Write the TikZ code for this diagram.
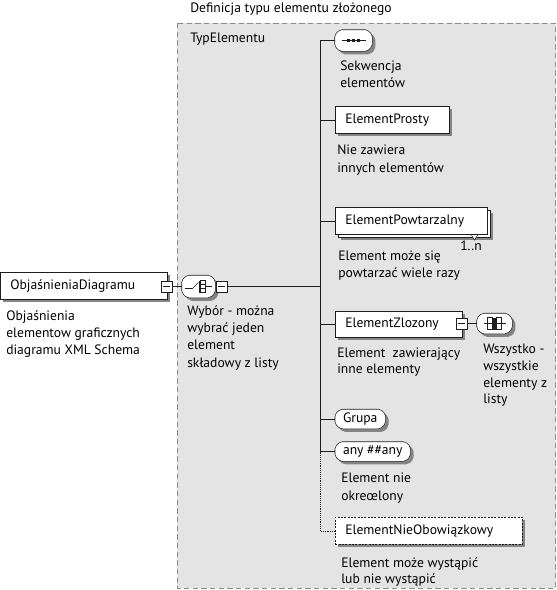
\documentclass[tikz,border=0pt]{standalone}
\usepackage{fontspec}
\setmainfont{PT Sans}
\usetikzlibrary{shadows}
\definecolor{boxgray}{HTML}{E4E4E4}
\definecolor{shadowgray}{HTML}{858585}
\definecolor{linecol}{HTML}{1E1E1E}
\definecolor{dashcol}{HTML}{8C8C8C}
\pgfdeclarelayer{back}
\pgfdeclarelayer{bg}
\pgfsetlayers{back,bg,main}
\newcommand\drawoct[1]{%
  \begin{pgfonlayer}{bg}
  \fill[shadowgray,rounded corners=1.5pt,transform canvas={shift={(2.25pt,-2.25pt)}}]
    ([xshift=3.75pt]#1.north west) -- ([xshift=-3.75pt]#1.north east) -- ([yshift=-3.75pt]#1.north east) -- ([yshift=3.75pt]#1.south east) -- ([xshift=-3.75pt]#1.south east) -- ([xshift=3.75pt]#1.south west) -- ([yshift=3.75pt]#1.south west) -- ([yshift=-3.75pt]#1.north west) -- cycle;
  \draw[linecol,fill=white,rounded corners=1.5pt]
    ([xshift=3.75pt]#1.north west) -- ([xshift=-3.75pt]#1.north east) -- ([yshift=-3.75pt]#1.north east) -- ([yshift=3.75pt]#1.south east) -- ([xshift=-3.75pt]#1.south east) -- ([xshift=3.75pt]#1.south west) -- ([yshift=3.75pt]#1.south west) -- ([yshift=-3.75pt]#1.north west) -- cycle;
  \end{pgfonlayer}}
\begin{document}
\begin{tikzpicture}[x=0.75pt,y=-0.75pt,
  font=\fontsize{10.2}{12}\selectfont,
  line width=0.6pt,
  shd/.style={drop shadow={shadow xshift=2.25pt,shadow yshift=-2.25pt,fill=shadowgray,opacity=1}},
  elembox/.style={draw=linecol,fill=white,shd,rectangle,anchor=north west,inner xsep=7.5pt,inner ysep=0pt,align=left},
  compbox/.style={rectangle,inner sep=0pt},
  minusbox/.style={draw=linecol,fill=white,rectangle,minimum size=8.25pt,inner sep=0pt,
    path picture={\draw[linecol] ([xshift=1.5pt]path picture bounding box.west) -- ([xshift=-1.5pt]path picture bounding box.east);}},
  lbl/.style={anchor=base west,inner sep=0pt},
  conn/.style={draw=linecol},
  optconn/.style={draw=linecol,densely dotted}
]
\useasboundingbox (0,0) rectangle (557,590);
% outer complex type area
\begin{pgfonlayer}{back}
\draw[dash pattern=on 4pt off 2.5pt,draw=dashcol,fill=boxgray] (177,23) rectangle (555.5,588);
\end{pgfonlayer}
\node[lbl] (title) at (190,12) {Definicja typu elementu złożonego};
\node[lbl] (typ) at (190,42) {TypElementu};

% trunk coordinates
\coordinate (trunktop) at (320,40.5);

% sequence compositor
\node[compbox,minimum width=27.75pt,minimum height=15.75pt] (seq) at (353.5,40.5) {};
\drawoct{seq}
\draw[linecol] ([xshift=-9pt]seq.center) -- ([xshift=9pt]seq.center);
\foreach \d in {-5,0,5}{\fill[linecol] ([xshift=\d*0.75pt]seq.center) +(-1.5,-1.5) rectangle +(1.5,1.5);}
\node[lbl] (seqlbl) at (340,70) {Sekwencja};
\node[lbl] (seqlbl2) at (340,87) {elementów};

% ElementProsty
\node[elembox,minimum height=20.25pt,text width=70.5pt] (prosty) at (335,106) {ElementProsty};
\node[lbl] (prostylbl) at (337,154) {Nie zawiera};
\node[lbl] (prostylbl2) at (337,172) {innych elementów};

% ElementPowtarzalny (repeated)
\node[elembox,minimum height=20.25pt,text width=99pt,
  drop shadow={shadow xshift=4.5pt,shadow yshift=-4.5pt,fill=shadowgray,opacity=1},
  copy shadow={shadow xshift=2.25pt,shadow yshift=-2.25pt}] (powt) at (335,207) {ElementPowtarzalny};
\draw[linecol,fill=white] ([xshift=-12pt,yshift=-0.5pt]powt.south east) -- ++(3,5) -- ++(3,-5);
\node[lbl] (powtmult) at (460,250) {1..n};
\node[lbl] (powtlbl) at (338,260) {Element może się};
\node[lbl] (powtlbl2) at (338,277) {powtarzać wiele razy};

% ElementZlozony
\node[elembox,minimum height=19.5pt,text width=80.25pt] (zloz) at (335,311) {ElementZlozony};
\node[minusbox] (zlozmin) at (461.5,323.5) {};
\node[compbox,minimum width=26.25pt,minimum height=15pt] (all) at (494.5,323.5) {};
\drawoct{all}
\draw[linecol] ([xshift=-8.25pt]all.center) -- ([xshift=8.25pt]all.center);
\draw[linecol] ([xshift=-5.25pt,yshift=-4.5pt]all.center) rectangle ([xshift=-1.5pt,yshift=4.5pt]all.center);
\draw[linecol] ([xshift=1.5pt,yshift=-4.5pt]all.center) rectangle ([xshift=5.25pt,yshift=4.5pt]all.center);
\fill[linecol] ([xshift=-1.5pt,yshift=-4.5pt]all.center) rectangle ([xshift=1.5pt,yshift=4.5pt]all.center);
\node[lbl] (zlozlbl) at (337,357) {Element\ \ zawierający};
\node[lbl] (zlozlbl2) at (337,373) {inne elementy};
\node[lbl] (alllbl) at (483,353) {Wszystko -};
\node[lbl] (alllbl2) at (483,370) {wszystkie};
\node[lbl] (alllbl3) at (483,387) {elementy z};
\node[lbl] (alllbl4) at (483,403) {listy};

% Grupa
\node[compbox,anchor=west,minimum width=37.5pt,minimum height=14.25pt] (grupa) at (335,419) {Grupa};
\drawoct{grupa}
% any
\node[compbox,anchor=west,minimum width=56.25pt,minimum height=14.25pt] (any) at (335,451.5) {any \#\#any};
\drawoct{any}
\node[lbl] (anylbl) at (341,482) {Element nie};
\node[lbl] (anylbl2) at (341,500) {okreœlony};

% optional element
\node[elembox,minimum height=20.25pt,text width=125.25pt,dash pattern=on 1.5pt off 1pt] (opt) at (335,517) {ElementNieObowiązkowy};
\node[lbl] (optlbl) at (341,567) {Element może wystąpić};
\node[lbl] (optlbl2) at (341,583) {lub nie wystąpić};

% root element
\node[elembox,minimum height=20.25pt,text width=110pt] (root) at (0,272) {ObjaśnieniaDiagramu};
\node[minusbox] (rootmin) at (166.5,286.5) {};
\node[compbox,minimum width=24.75pt,minimum height=16.5pt] (choice) at (198.5,286.5) {};
\drawoct{choice}
\node[minusbox] (choicemin) at (221.5,286.5) {};
\draw[linecol] ([xshift=-10pt,yshift=-1.5pt]choice.center) -- ([xshift=-4.5pt,yshift=-1.5pt]choice.center) -- ([xshift=0pt,yshift=3pt]choice.center);
\fill[linecol] ([xshift=0pt,yshift=-4.5pt]choice.center) rectangle ([xshift=1.5pt,yshift=4.5pt]choice.center);
\draw[linecol] ([xshift=1.5pt,yshift=-4.5pt]choice.center) rectangle ([xshift=5pt,yshift=4.5pt]choice.center);
\draw[linecol] ([xshift=1.5pt,yshift=-1.5pt]choice.center) -- ([xshift=5pt,yshift=-1.5pt]choice.center);
\draw[linecol] ([xshift=1.5pt,yshift=1.5pt]choice.center) -- ([xshift=5pt,yshift=1.5pt]choice.center);
\draw[linecol] ([xshift=5pt]choice.center) -- ([xshift=10pt]choice.center);
\node[lbl] (rootlbl) at (6,320) {Objaśnienia};
\node[lbl] (rootlbl2) at (6,337) {elementow graficznych};
\node[lbl] (rootlbl3) at (6,354) {diagramu XML Schema};
\node[lbl] (choicelbl) at (187,315) {Wybór - można};
\node[lbl] (choicelbl2) at (187,332) {wybrać jeden};
\node[lbl] (choicelbl3) at (187,349) {element};
\node[lbl] (choicelbl4) at (187,367) {składowy z listy};

% connectors
\draw[conn] (rootmin) -- (choice);
\draw[conn] (choicemin.east) -- (choicemin.east -| trunktop);
\draw[conn] (trunktop) -- (any.west -| trunktop);
\draw[conn] (trunktop) -- (seq.west);
\draw[conn] (prosty.west -| trunktop) -- (prosty.west);
\draw[conn] (powt.west -| trunktop) -- (powt.west);
\draw[conn] (zloz.west -| trunktop) -- (zloz.west);
\draw[conn] (zlozmin.east) -- (all.west);
\draw[conn] (grupa.west -| trunktop) -- (grupa.west);
\draw[conn] (any.west -| trunktop) -- (any.west);
\draw[optconn] (any.west -| trunktop) -- (opt.west -| trunktop) -- (opt.west);
\end{tikzpicture}
\end{document}
